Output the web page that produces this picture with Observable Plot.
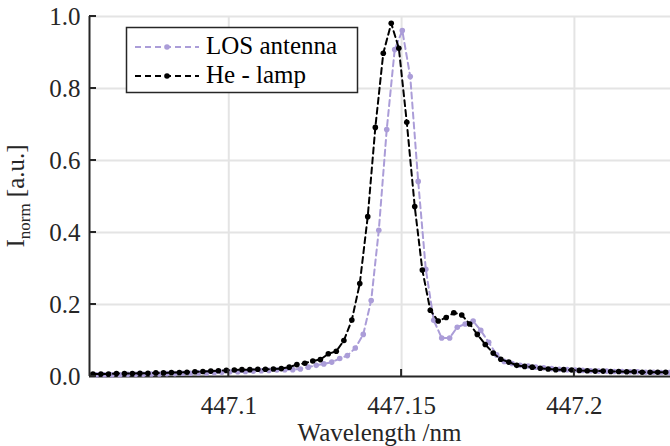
<!DOCTYPE html>
<html>
<head>
<meta charset="utf-8">
<script src="https://cdn.jsdelivr.net/npm/d3@7"></script>
<script src="https://cdn.jsdelivr.net/npm/@observablehq/plot@0.6"></script>
<style>
  body { margin: 0; background: #ffffff; }
  #chart { position: relative; width: 670px; height: 446px; overflow: hidden; }
  #chart svg { display: block; }
  #chart svg text { font-family: "Liberation Serif", "Times New Roman", Times, serif !important; }
</style>
</head>
<body>
<div id="chart"></div>
<script>
// ---------------- data ----------------
const seriesNames = ["LOS antenna", "He - lamp"];
const seriesColors = ["#ab9dd8", "#000000"];

const wavelengthHe = [
  447.0607, 447.0630, 447.0652, 447.0675, 447.0698, 447.0721, 447.0743, 447.0766, 447.0789, 447.0811,
  447.0834, 447.0857, 447.0879, 447.0902, 447.0925, 447.0948, 447.0970, 447.0993, 447.1016, 447.1038,
  447.1061, 447.1084, 447.1106, 447.1129, 447.1152, 447.1175, 447.1197, 447.1220, 447.1243, 447.1265,
  447.1288, 447.1311, 447.1333, 447.1356, 447.1379, 447.1402, 447.1424, 447.1447, 447.1470, 447.1492,
  447.1515, 447.1538, 447.1560, 447.1583, 447.1606, 447.1629, 447.1651, 447.1674, 447.1697, 447.1719,
  447.1742, 447.1765, 447.1787, 447.1810, 447.1833, 447.1856, 447.1878, 447.1901, 447.1924, 447.1946,
  447.1969, 447.1992, 447.2014, 447.2037, 447.2060, 447.2083, 447.2105, 447.2128, 447.2151, 447.2173,
  447.2196, 447.2219, 447.2241, 447.2264
];
const intensityHe = [
  0.007, 0.007, 0.007, 0.008, 0.008, 0.008, 0.009, 0.009, 0.010, 0.010,
  0.011, 0.011, 0.012, 0.013, 0.014, 0.015, 0.016, 0.017, 0.018, 0.019,
  0.019, 0.020, 0.020, 0.021, 0.022, 0.026, 0.033, 0.037, 0.043, 0.047,
  0.063, 0.070, 0.100, 0.157, 0.258, 0.444, 0.692, 0.898, 0.981, 0.912,
  0.706, 0.472, 0.296, 0.184, 0.154, 0.164, 0.177, 0.171, 0.146, 0.117,
  0.089, 0.065, 0.048, 0.040, 0.031, 0.028, 0.026, 0.023, 0.021, 0.019,
  0.019, 0.018, 0.017, 0.016, 0.015, 0.015, 0.014, 0.014, 0.013, 0.013,
  0.012, 0.012, 0.012, 0.012
];

const wavelengthLOS = [
  447.0617, 447.0640, 447.0662, 447.0685, 447.0708, 447.0731, 447.0753, 447.0776, 447.0799, 447.0821,
  447.0844, 447.0867, 447.0889, 447.0912, 447.0935, 447.0958, 447.0980, 447.1003, 447.1026, 447.1048,
  447.1071, 447.1094, 447.1116, 447.1139, 447.1162, 447.1185, 447.1207, 447.1230, 447.1253, 447.1275,
  447.1298, 447.1321, 447.1343, 447.1366, 447.1389, 447.1412, 447.1434, 447.1457, 447.1480, 447.1502,
  447.1525, 447.1548, 447.1570, 447.1593, 447.1616, 447.1639, 447.1661, 447.1684, 447.1707, 447.1729,
  447.1752, 447.1775, 447.1797, 447.1820, 447.1843, 447.1866, 447.1888, 447.1911, 447.1934, 447.1956,
  447.1979, 447.2002, 447.2024, 447.2047, 447.2070, 447.2093, 447.2115, 447.2138, 447.2161, 447.2183,
  447.2206, 447.2229, 447.2251, 447.2274
];
const intensityLOS = [
  0.005, 0.005, 0.005, 0.005, 0.006, 0.006, 0.006, 0.007, 0.007, 0.008,
  0.008, 0.009, 0.009, 0.010, 0.010, 0.011, 0.012, 0.013, 0.013, 0.014,
  0.015, 0.016, 0.017, 0.018, 0.019, 0.019, 0.021, 0.026, 0.031, 0.035,
  0.040, 0.050, 0.058, 0.079, 0.117, 0.211, 0.406, 0.686, 0.908, 0.961,
  0.833, 0.542, 0.298, 0.156, 0.107, 0.107, 0.137, 0.146, 0.154, 0.128,
  0.095, 0.060, 0.042, 0.036, 0.031, 0.029, 0.026, 0.024, 0.022, 0.020,
  0.019, 0.018, 0.017, 0.016, 0.015, 0.015, 0.014, 0.014, 0.013, 0.013,
  0.012, 0.012, 0.011, 0.011
];

const xTicks = [447.1, 447.15, 447.2];
const xTickLabels = ["447.1", "447.15", "447.2"];
const yTicks = [0, 0.2, 0.4, 0.6, 0.8, 1.0];
const yTickLabels = ["0.0", "0.2", "0.4", "0.6", "0.8", "1.0"];
const xDomain = [447.0597, 447.2278];
const yDomain = [0, 1];
const xLabel = "Wavelength /nm";

// ---------------- build ----------------
const los = wavelengthLOS.map((w, i) => ({ w, v: intensityLOS[i] }));
const he = wavelengthHe.map((w, i) => ({ w, v: intensityHe[i] }));

const FONT = "Liberation Serif";
const AXIS = "#262626";
const GRID = "#e4e4e4";
const FS = 25;

const chart = Plot.plot({
  width: 670,
  height: 446,
  marginLeft: 89,
  marginRight: 0,
  marginTop: 16,
  marginBottom: 70,
  style: { fontFamily: FONT, fontSize: FS + "px", color: AXIS, background: "#ffffff", overflow: "visible" },
  x: { domain: xDomain },
  y: { domain: yDomain },
  marks: [
    Plot.gridX(xTicks, { stroke: GRID, strokeOpacity: 1, strokeWidth: 2 }),
    Plot.gridY(yTicks.slice(1), { stroke: GRID, strokeOpacity: 1, strokeWidth: 2 }),
    Plot.axisX(xTicks, {
      tickSize: 0, tickPadding: 20, fontSize: FS, fontFamily: FONT, fill: AXIS,
      tickFormat: d => xTickLabels[xTicks.indexOf(d)], label: null
    }),
    Plot.axisY(yTicks, {
      tickSize: 0, tickPadding: 9, fontSize: FS, fontFamily: FONT, fill: AXIS,
      tickFormat: d => yTickLabels[yTicks.indexOf(d)], label: null
    }),
    Plot.ruleX([xDomain[0]], { stroke: AXIS, strokeWidth: 2 }),
    Plot.ruleY([0], { stroke: AXIS, strokeWidth: 2 }),
    Plot.line(los, { x: "w", y: "v", stroke: seriesColors[0], strokeWidth: 2, strokeDasharray: "6,4" }),
    Plot.dot(los, { x: "w", y: "v", r: 2.8, fill: seriesColors[0], stroke: "none" }),
    Plot.line(he, { x: "w", y: "v", stroke: seriesColors[1], strokeWidth: 2, strokeDasharray: "6,4" }),
    Plot.dot(he, { x: "w", y: "v", r: 2.8, fill: seriesColors[1], stroke: "none" })
  ]
});

document.getElementById("chart").appendChild(chart);

// ---------------- decorations (ticks, labels, legend) ----------------
const sx = chart.scale("x");
const sy = chart.scale("y");
const svg = d3.select(chart);
const x0 = sx.apply(xDomain[0]);
const y0 = sy.apply(0);

const tg = svg.append("g").attr("stroke", AXIS).attr("stroke-width", 2);
xTicks.forEach(t => {
  const px = sx.apply(t);
  tg.append("line").attr("x1", px).attr("x2", px).attr("y1", y0).attr("y2", y0 - 7);
});
yTicks.forEach(t => {
  const py = sy.apply(t);
  tg.append("line").attr("x1", x0).attr("x2", x0 + 7).attr("y1", py).attr("y2", py);
});

// x label
svg.append("text")
  .attr("x", (x0 + 670) / 2).attr("y", 441)
  .attr("text-anchor", "middle")
  .attr("font-family", FONT).attr("font-size", FS).attr("fill", AXIS)
  .text(xLabel);

// y label with subscript
const yl = svg.append("text")
  .attr("transform", `translate(24,${(sy.apply(0) + sy.apply(1)) / 2}) rotate(-90)`)
  .attr("text-anchor", "middle")
  .attr("font-family", FONT).attr("font-size", FS).attr("fill", AXIS);
yl.append("tspan").text("I");
yl.append("tspan").attr("font-size", 17).attr("dy", 6).text("norm");
yl.append("tspan").attr("dy", -6).text(" [a.u.]");

// legend
const lg = svg.append("g");
lg.append("rect")
  .attr("x", 126.5).attr("y", 27.5).attr("width", 231).attr("height", 65)
  .attr("fill", "#ffffff").attr("stroke", AXIS).attr("stroke-width", 1.5);
const rows = [47, 76];
seriesNames.forEach((name, i) => {
  const yy = rows[i];
  lg.append("line")
    .attr("x1", 135).attr("x2", 199).attr("y1", yy).attr("y2", yy)
    .attr("stroke", seriesColors[i]).attr("stroke-width", 2).attr("stroke-dasharray", "6,4");
  lg.append("circle").attr("cx", 167).attr("cy", yy).attr("r", 2.8).attr("fill", seriesColors[i]);
  lg.append("text")
    .attr("x", 206).attr("y", yy + 7)
    .attr("text-anchor", "start")
    .attr("font-family", FONT).attr("font-size", FS).attr("fill", "#000")
    .text(name);
});
</script>
</body>
</html>
